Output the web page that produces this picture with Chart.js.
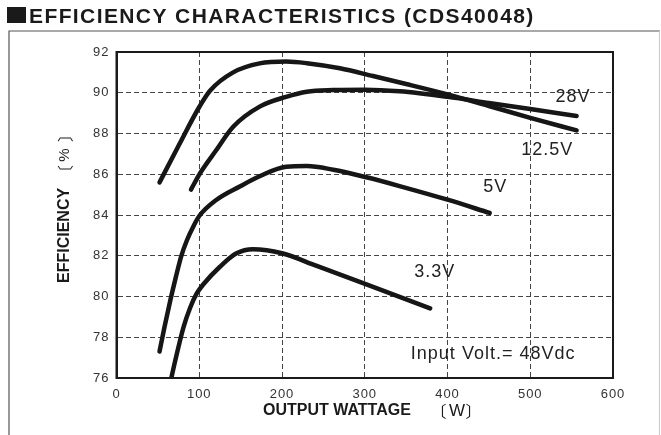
<!DOCTYPE html>
<html><head><meta charset="utf-8">
<script src="https://cdn.jsdelivr.net/npm/chart.js@4.4.1/dist/chart.umd.min.js"></script>
<style>html,body{margin:0;padding:0;background:#fff;}canvas{display:block;}</style>
</head><body>
<canvas id="c" width="661" height="435"></canvas>
<script>
const titleText = 'EFFICIENCY CHARACTERISTICS (CDS40048)';
const xTicks = [0, 100, 200, 300, 400, 500, 600];
const yTicks = [76, 78, 80, 82, 84, 86, 88, 90, 92];
const seriesNames = ['12.5V', '28V', '5V', '3.3V'];
const inputNote = 'Input Volt.= 48Vdc';

const watt125 = [52, 75, 100, 113, 141, 173, 205, 230, 270, 310, 350, 400, 450, 500, 556];
const eff125  = [85.6, 87.4, 89.3, 90.1, 91.0, 91.44, 91.53, 91.45, 91.2, 90.82, 90.43, 89.92, 89.35, 88.77, 88.15];

const watt28 = [90, 101, 120, 141, 173, 205, 230, 262, 300, 342, 400, 450, 500, 556];
const eff28  = [85.25, 86.05, 87.15, 88.33, 89.32, 89.8, 90.05, 90.13, 90.15, 90.07, 89.8, 89.5, 89.2, 88.86];

const watt5 = [52, 58, 65, 72, 78, 85, 93, 100, 121, 149, 173, 205, 230, 262, 302, 342, 400, 451];
const eff5  = [77.3, 78.5, 79.8, 81.0, 81.95, 82.75, 83.45, 83.95, 84.75, 85.4, 85.9, 86.37, 86.4, 86.22, 85.85, 85.42, 84.75, 84.1];

const watt33 = [64, 73, 81, 89, 97, 105, 125, 145, 165, 200, 242, 302, 379];
const eff33  = [75.6, 77.2, 78.5, 79.45, 80.15, 80.6, 81.46, 82.12, 82.32, 82.12, 81.5, 80.6, 79.42];

const seriesWatt = [watt125, watt28, watt5, watt33];
const seriesEff = [eff125, eff28, eff5, eff33];

const FONT = "'Liberation Sans', Arial, Helvetica, sans-serif";
const CJK = "'Noto Sans CJK JP', 'Liberation Sans', sans-serif";

const datasets = seriesNames.map((name, i) => ({
  label: name,
  data: seriesWatt[i].map((w, j) => ({ x: w, y: seriesEff[i][j] })),
  borderColor: '#161616',
  borderWidth: 4.5,
  borderCapStyle: 'round',
  borderJoinStyle: 'round',
  pointRadius: 0,
  fill: false,
  cubicInterpolationMode: 'monotone',
  clip: 0
}));

const deco = {
  id: 'deco',
  beforeDraw(chart) {
    const c = chart.ctx;
    c.save();
    c.fillStyle = '#fff';
    c.fillRect(0, 0, chart.width, chart.height);
    c.restore();
    c.letterSpacing = '1px';
  },
  afterDraw(chart) {
    const c = chart.ctx, a = chart.chartArea, xs = chart.scales.x, ys = chart.scales.y;
    c.save();
    // plot box
    c.lineWidth = 2;
    c.strokeStyle = '#1a1a1a';
    c.strokeRect(a.left, a.top, a.right - a.left, a.bottom - a.top);
    // outer frame
    c.lineWidth = 1.2;
    c.strokeStyle = '#555';
    c.beginPath();
    c.moveTo(9, 435); c.lineTo(9, 31); c.lineTo(660, 31);
    c.stroke();
    c.strokeStyle = '#cfcfcf';
    c.beginPath();
    c.moveTo(659.5, 31); c.lineTo(659.5, 435);
    c.stroke();
    // title
    c.fillStyle = '#1a1a1a';
    c.fillRect(7, 7, 19, 16);
    c.font = 'bold 21px ' + FONT;
    c.letterSpacing = '1.4px';
    c.textAlign = 'left';
    c.textBaseline = 'alphabetic';
    c.fillText(titleText, 29, 23);
    // series labels
    c.fillStyle = '#222';
    c.font = '18px ' + FONT;
    c.letterSpacing = '1px';
    c.textAlign = 'center';
    c.textBaseline = 'middle';
    const labelPos = [[520, 87.2], [551, 89.8], [457, 85.35], [384, 81.2]];
    seriesNames.forEach((n, i) => {
      c.fillText(n, xs.getPixelForValue(labelPos[i][0]) + 0.5, ys.getPixelForValue(labelPos[i][1]));
    });
    c.textAlign = 'left';
    c.fillText(inputNote, xs.getPixelForValue(355.7), ys.getPixelForValue(77.2));
    // x axis title
    c.fillStyle = '#1a1a1a';
    c.font = 'bold 16px ' + FONT;
    c.letterSpacing = '0px';
    c.textAlign = 'left';
    c.fillText('OUTPUT WATTAGE', 263, 411);
    c.font = '16px ' + CJK;
    c.textAlign = 'right';
    c.fillText('〔', 446.5, 411);
    c.textAlign = 'left';
    c.fillText('〕', 465.5, 411);
    c.font = '17px ' + FONT;
    c.textAlign = 'center';
    c.fillText('W', 457, 411);
    // y axis title
    c.translate(65, 283);
    c.rotate(-Math.PI / 2);
    c.font = 'bold 16px ' + FONT;
    c.textAlign = 'left';
    c.fillText('EFFICIENCY', 0, 0);
    c.font = '16px ' + CJK;
    c.textAlign = 'right';
    c.fillText('〔', 118, 0);
    c.textAlign = 'left';
    c.fillText('〕', 141, 0);
    c.font = '15px ' + FONT;
    c.textAlign = 'center';
    c.fillText('%', 128, 0);
    c.restore();
  }
};

new Chart(document.getElementById('c'), {
  type: 'line',
  data: { datasets },
  plugins: [deco],
  options: {
    responsive: false,
    animation: false,
    devicePixelRatio: 1,
    layout: { padding: { left: 0, top: 52, right: 48, bottom: 0 } },
    plugins: { legend: { display: false }, tooltip: { enabled: false }, title: { display: false } },
    scales: {
      x: {
        type: 'linear', min: 0, max: 600,
        afterBuildTicks: s => { s.ticks = xTicks.map(v => ({ value: v })); },
        afterFit: s => { s.height = 57; },
        grid: { color: '#444', lineWidth: 1, drawTicks: false },
        border: { display: true, color: '#1a1a1a', width: 2, dash: [5, 3] },
        ticks: { font: { family: FONT, size: 13 }, color: '#333', padding: 9, maxRotation: 0 }
      },
      y: {
        type: 'linear', min: 76, max: 92,
        afterBuildTicks: s => { s.ticks = yTicks.map(v => ({ value: v })); },
        afterFit: s => { s.width = 116.5; },
        grid: { color: '#444', lineWidth: 1, drawTicks: false },
        border: { display: true, color: '#1a1a1a', width: 2, dash: [5, 3] },
        ticks: { font: { family: FONT, size: 13 }, color: '#333', padding: 7 }
      }
    }
  }
});
</script>
</body></html>
